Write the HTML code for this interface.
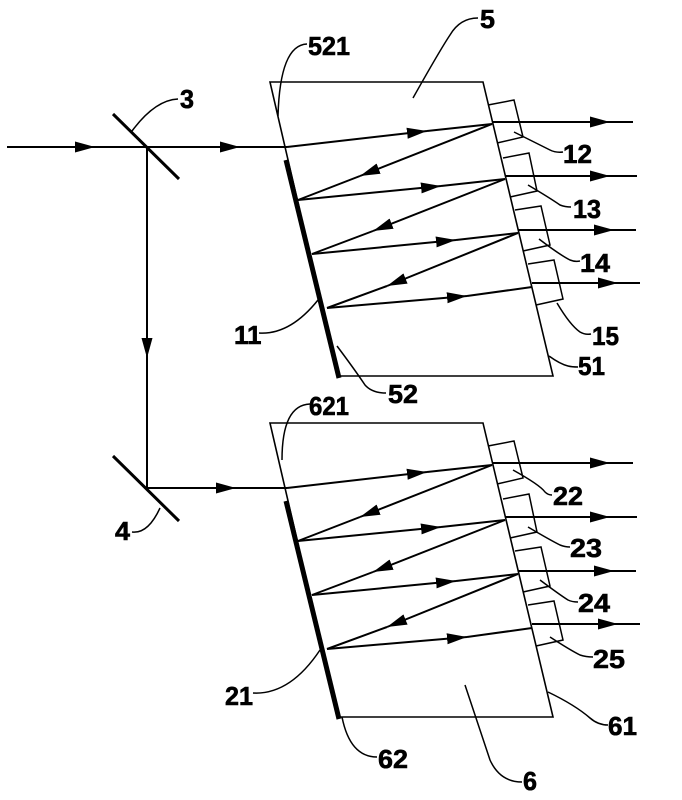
<!DOCTYPE html>
<html><head><meta charset="utf-8"><style>
html,body{margin:0;padding:0;background:#fff}
svg{display:block}
text{font-family:"Liberation Sans",sans-serif;font-weight:bold;font-size:26px;fill:#000;stroke:#000;stroke-width:0.6}
</style></head><body>
<svg width="682" height="800" viewBox="0 0 682 800" xmlns="http://www.w3.org/2000/svg">
<defs>
<marker id="a" markerUnits="userSpaceOnUse" markerWidth="22" markerHeight="12" refX="20" refY="6" orient="auto">
<polygon points="0,0.5 20,6 0,11.5" fill="#000"/>
</marker>
<g id="blk" fill="none" stroke="#000">
<polygon points="270,82 483,82 553,376 338,376" stroke-width="1.6"/>
<line x1="286" y1="160" x2="339" y2="378" stroke-width="5"/>
<g stroke-width="1.5">
<polyline points="488,105 514,100 523,137 497,143"/>
<polyline points="503,158 529,153 537,191 510,197"/>
<polyline points="515,210 541,206 550,245 523,251"/>
<polyline points="528,264 554,260 563,299 536,305"/>
</g>
<g stroke-width="2">
<line x1="287" y1="147" x2="427" y2="131" marker-end="url(#a)"/><line x1="427" y1="131" x2="492" y2="124"/>
<line x1="492" y1="124" x2="360" y2="176" marker-end="url(#a)"/><line x1="360" y1="176" x2="298" y2="200"/>
<line x1="298" y1="200" x2="441" y2="186" marker-end="url(#a)"/><line x1="441" y1="186" x2="505" y2="179"/>
<line x1="505" y1="179" x2="373" y2="231" marker-end="url(#a)"/><line x1="373" y1="231" x2="312" y2="254"/>
<line x1="312" y1="254" x2="456" y2="240" marker-end="url(#a)"/><line x1="456" y1="240" x2="518" y2="233"/>
<line x1="518" y1="233" x2="387" y2="286" marker-end="url(#a)"/><line x1="387" y1="286" x2="327" y2="308"/>
<line x1="327" y1="308" x2="467" y2="296" marker-end="url(#a)"/><line x1="467" y1="296" x2="532" y2="287"/>
<line x1="492" y1="122" x2="610" y2="122" marker-end="url(#a)"/><line x1="610" y1="122" x2="633" y2="122"/>
<line x1="505" y1="176" x2="610" y2="176" marker-end="url(#a)"/><line x1="610" y1="176" x2="637" y2="176"/>
<line x1="518" y1="230" x2="614" y2="230" marker-end="url(#a)"/><line x1="614" y1="230" x2="636" y2="230"/>
<line x1="532" y1="283" x2="618" y2="283" marker-end="url(#a)"/><line x1="618" y1="283" x2="640" y2="283"/>
</g>
</g>
</defs>
<use href="#blk"/>
<use href="#blk" transform="translate(0,341)"/>
<g fill="none" stroke="#000" stroke-width="2">
<line x1="7" y1="147" x2="95" y2="147" marker-end="url(#a)"/><line x1="95" y1="147" x2="146" y2="147"/>
<line x1="146" y1="147" x2="240" y2="147" marker-end="url(#a)"/><line x1="240" y1="147" x2="287" y2="147"/>
<line x1="147" y1="147" x2="147" y2="358" marker-end="url(#a)"/><line x1="147" y1="358" x2="147" y2="488"/>
<line x1="147" y1="488" x2="236" y2="488" marker-end="url(#a)"/><line x1="236" y1="488" x2="287" y2="488"/>
<line x1="113" y1="114" x2="179" y2="179" stroke-width="3"/>
<line x1="113" y1="456" x2="179" y2="521" stroke-width="3"/>
</g>
<g fill="none" stroke="#000" stroke-width="1.5">
<path d="M132,131 Q155,100 178,99"/>
<path d="M160,508 Q148,534 132,532"/>
<path d="M278,116 Q280,45 307,44"/>
<path d="M413,98 Q440,50 450,35 Q460,18 478,18"/>
<path d="M514,132 Q540,145 550,150 Q556,153 563,152"/>
<path d="M528,185 Q550,198 560,205 Q565,207 571,207"/>
<path d="M539,239 Q560,255 570,260 Q575,262 580,261"/>
<path d="M557,303 Q570,325 580,332 Q585,335 591,334"/>
<path d="M549,356 Q560,364 568,366 Q572,367 578,367"/>
<path d="M318,300 Q290,335 259,333"/>
<path d="M337,346 Q355,370 365,385 Q372,393 386,393"/>
<path d="M282,460 Q282,405 310,404"/>
<path d="M513,470 Q540,485 545,492 Q548,495 552,495"/>
<path d="M528,527 Q550,540 560,545 Q565,547 570,547"/>
<path d="M540,580 Q560,595 568,600 Q572,602 578,602"/>
<path d="M550,637 Q570,650 580,655 Q586,657 593,657"/>
<path d="M320,650 Q290,695 253,693"/>
<path d="M342,717 Q350,757 377,757"/>
<path d="M548,692 Q575,705 590,718 Q598,725 608,725"/>
<path d="M465,685 Q480,730 490,760 Q500,782 522,782"/>
</g>
<text x="180" y="108" textLength="14" lengthAdjust="spacingAndGlyphs">3</text>
<text x="115" y="540" textLength="15" lengthAdjust="spacingAndGlyphs">4</text>
<text x="480" y="28" textLength="15" lengthAdjust="spacingAndGlyphs">5</text>
<text x="308" y="55" textLength="42" lengthAdjust="spacingAndGlyphs">521</text>
<text x="563" y="163" textLength="29" lengthAdjust="spacingAndGlyphs">12</text>
<text x="573" y="218" textLength="28" lengthAdjust="spacingAndGlyphs">13</text>
<text x="580" y="272" textLength="30" lengthAdjust="spacingAndGlyphs">14</text>
<text x="592" y="345" textLength="27" lengthAdjust="spacingAndGlyphs">15</text>
<text x="234" y="344">11</text>
<text x="388" y="403" textLength="30" lengthAdjust="spacingAndGlyphs">52</text>
<text x="578" y="375" textLength="27" lengthAdjust="spacingAndGlyphs">51</text>
<text x="309" y="415" textLength="40" lengthAdjust="spacingAndGlyphs">621</text>
<text x="553" y="505" textLength="30" lengthAdjust="spacingAndGlyphs">22</text>
<text x="570" y="557" textLength="32" lengthAdjust="spacingAndGlyphs">23</text>
<text x="578" y="612" textLength="32" lengthAdjust="spacingAndGlyphs">24</text>
<text x="593" y="668" textLength="32" lengthAdjust="spacingAndGlyphs">25</text>
<text x="225" y="705" textLength="28" lengthAdjust="spacingAndGlyphs">21</text>
<text x="378" y="768" textLength="30" lengthAdjust="spacingAndGlyphs">62</text>
<text x="608" y="735" textLength="29" lengthAdjust="spacingAndGlyphs">61</text>
<text x="523" y="790" textLength="14" lengthAdjust="spacingAndGlyphs">6</text>
</svg>
</body></html>
